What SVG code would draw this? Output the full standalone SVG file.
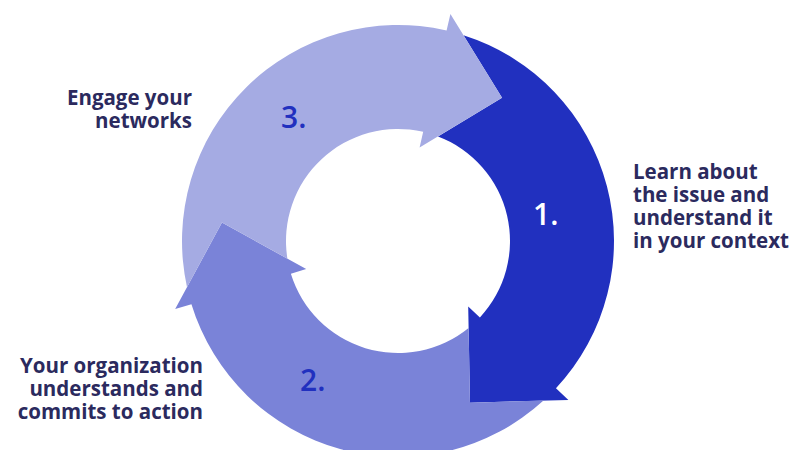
<svg xmlns="http://www.w3.org/2000/svg" width="792" height="450" viewBox="0 0 792 450">
<style>
.lbl{font-family:"Open Sans","Noto Sans","Liberation Sans",sans-serif;font-weight:700;font-size:20.5px;fill:#2B2A5E}
.num{font-family:"Open Sans","Noto Sans","Liberation Sans",sans-serif;font-weight:600;font-size:30px}
.end{text-anchor:end}
</style>
<rect width="792" height="450" fill="#FFFFFF"/>
<g id="connectors"></g>
<g id="step1">
<path fill="#2130BF" d="M463.49,35.17 A216,216 0 0 1 555.97,388.31 L568.40,399.91 L469.99,402.70 L468.21,306.47 L479.91,317.38 A112,112 0 0 0 437.99,136.38 L502.04,97.80 Z"/>
<text class="num" x="533" y="225" fill="#FFFFFF">1.</text>
<text class="lbl" x="633" y="179">Learn about</text>
<text class="lbl" x="633" y="202">the issue and</text>
<text class="lbl" x="633" y="225">understand it</text>
<text class="lbl" x="633" y="248">in your context</text>
</g>
<g id="step2">
<path fill="#7A83D8" d="M543.53,400.62 A216,216 0 0 1 191.44,304.15 L175.18,309.12 L221.97,222.50 L306.20,269.07 L290.89,273.75 A112,112 0 0 0 468.61,327.94 L469.99,402.70 Z"/>
<text class="num" x="300" y="391" fill="#2130BF">2.</text>
<text class="lbl end" x="203" y="373">Your organization</text>
<text class="lbl end" x="203" y="396">understands and</text>
<text class="lbl end" x="203" y="419">commits to action</text>
</g>
<g id="step3">
<path fill="#A5ABE3" d="M187.00,287.20 A216,216 0 0 1 446.59,30.54 L450.41,13.97 L502.04,97.80 L419.60,147.46 L423.19,131.87 A112,112 0 0 0 287.40,258.67 L221.97,222.50 Z"/>
<text class="num" x="281" y="128" fill="#2130BF">3.</text>
<text class="lbl end" x="192" y="105">Engage your</text>
<text class="lbl end" x="192" y="128">networks</text>
</g>
</svg>
